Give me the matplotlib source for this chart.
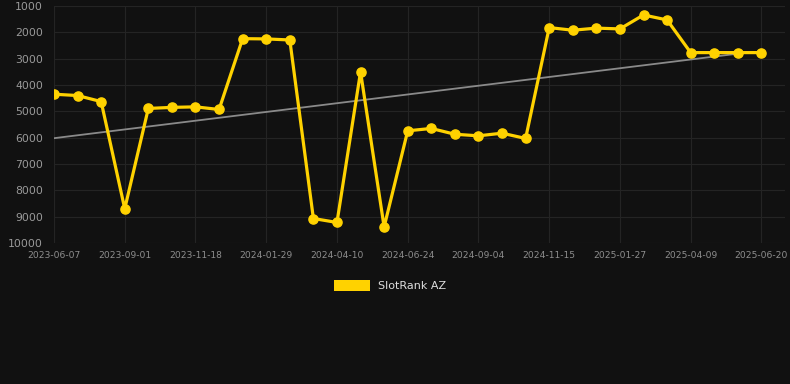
import numpy as np
import matplotlib.pyplot as plt
from matplotlib.patches import Rectangle

# --- data ---
dates = ['2023-06-07', '2023-06-30', '2023-07-29', '2023-09-01', '2023-09-24',
         '2023-10-20', '2023-11-18', '2023-12-10', '2024-01-05', '2024-01-29',
         '2024-02-22', '2024-03-17', '2024-04-10', '2024-05-05', '2024-05-30',
         '2024-06-24', '2024-07-18', '2024-08-11', '2024-09-04', '2024-09-28',
         '2024-10-22', '2024-11-15', '2024-12-09', '2025-01-02', '2025-01-27',
         '2025-02-20', '2025-03-16', '2025-04-09', '2025-05-03', '2025-05-27',
         '2025-06-20']
rank = [4350, 4400, 4630, 8700, 4890, 4850, 4830, 4930, 2240, 2250,
        2290, 9070, 9220, 3500, 9390, 5740, 5650, 5870, 5930, 5830,
        6030, 1820, 1920, 1840, 1870, 1340, 1530, 2770, 2770, 2770,
        2770]
# trend line end values (first date -> second to last date)
trend_idx = [0, 29]
trend_val = [6020, 2810]
yticks = [1000, 2000, 3000, 4000, 5000, 6000, 7000, 8000, 9000, 10000]

BG = '#111111'
GOLD = '#FFD200'

fig = plt.figure(figsize=(7.9, 3.84), dpi=100, facecolor=BG)
ax = fig.add_axes([54 / 790, 1 - 243 / 384, (785 - 54) / 790, 237 / 384])
ax.set_facecolor(BG)

x = np.arange(len(rank))

ax.plot(trend_idx, trend_val, color='#8a8a8a', linewidth=1.3, zorder=2)
ax.plot(x, rank, color=GOLD, linewidth=2.3, marker='o', markersize=6.6,
        solid_joinstyle='miter', zorder=3)

ax.set_ylim(10000, 1000)
ax.set_xlim(0, 31)
ax.set_yticks(yticks)
ax.set_xticks(x[::3])
ax.set_xticklabels(dates[::3])

ax.grid(True, color='#242424', linewidth=0.8)
ax.set_axisbelow(True)
for s in ax.spines.values():
    s.set_visible(False)
ax.tick_params(axis='y', colors='#9a9a9a', labelsize=7.8, length=0, pad=8)
ax.tick_params(axis='x', colors='#8e8e8e', labelsize=6.6, length=0, pad=6)

# legend with a filled rectangle handle
h = Rectangle((0, 0), 1, 1, facecolor=GOLD, edgecolor='none')
ax.legend([h], ['SlotRank AZ'], loc='upper center', bbox_to_anchor=(0.46, -0.115),
          frameon=False, handlelength=3.2, handleheight=1.1, fontsize=8,
          labelcolor='#dddddd')

fig.savefig('out.png', dpi=100, facecolor=BG)
